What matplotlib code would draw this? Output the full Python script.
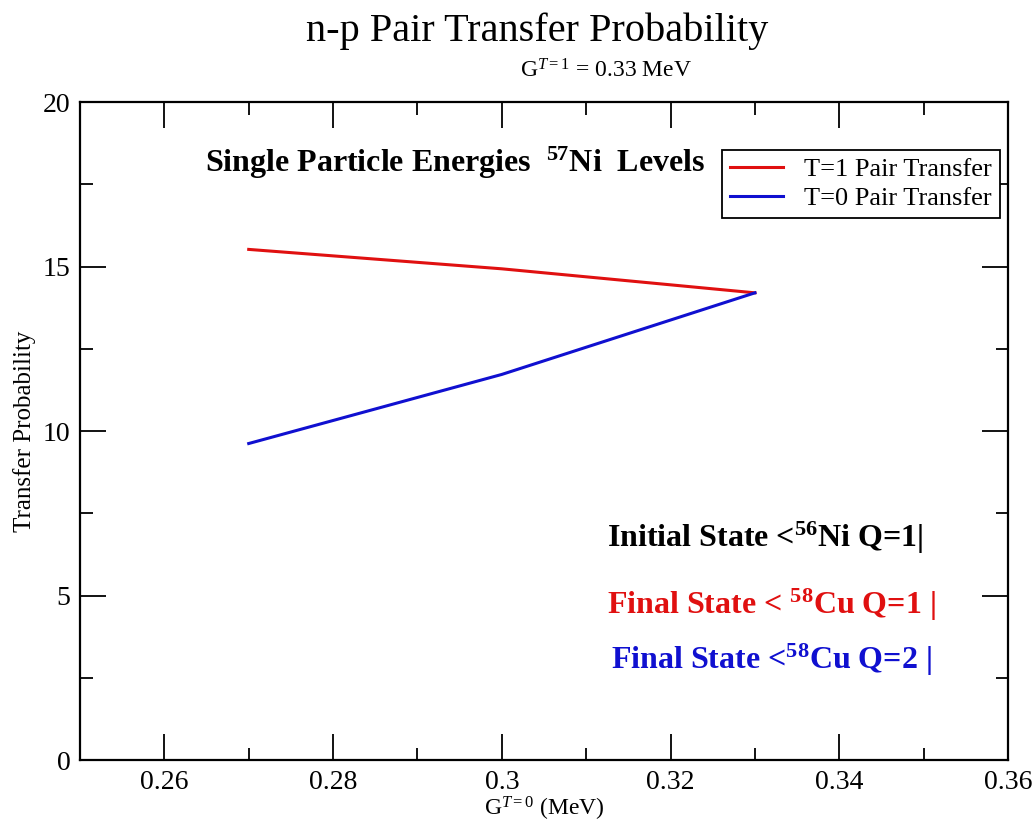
import matplotlib
matplotlib.use("Agg")
import matplotlib.pyplot as plt
from matplotlib.ticker import MultipleLocator

plt.rcParams['font.family'] = ['Liberation Serif', 'DejaVu Serif']
plt.rcParams['mathtext.fontset'] = 'custom'
plt.rcParams['mathtext.rm'] = 'Liberation Serif'
plt.rcParams['mathtext.it'] = 'Liberation Serif:italic'
plt.rcParams['mathtext.bf'] = 'Liberation Serif:bold'

# coupling strength G(T=0) in MeV
g_t0 = [0.27, 0.30, 0.33]
# transfer probabilities
p_t1 = [15.52, 14.93, 14.2]
p_t0 = [9.62, 11.72, 14.2]

fig = plt.figure(figsize=(10.36, 8.32), dpi=100)
ax = fig.add_axes([0.0772, 0.0865, 0.8958, 0.7909])

ax.plot(g_t0, p_t1, color='#e01010', lw=2.2, label='T=1 Pair Transfer')
ax.plot(g_t0, p_t0, color='#1010d0', lw=2.2, label='T=0 Pair Transfer')

ax.set_xlim(0.25, 0.36)
ax.set_ylim(0, 20)
ax.xaxis.set_minor_locator(MultipleLocator(0.01))
ax.yaxis.set_major_locator(MultipleLocator(5))
ax.yaxis.set_minor_locator(MultipleLocator(2.5))
ax.set_xticks([0.26, 0.28, 0.30, 0.32, 0.34, 0.36])
ax.set_xticklabels(['0.26', '0.28', '0.3', '0.32', '0.34', '0.36'])
ax.tick_params(which='both', direction='in', top=True, right=True, width=1.3)
ax.tick_params(which='major', length=19, labelsize=20, pad=7)
ax.tick_params(which='minor', length=9)
for s in ax.spines.values():
    s.set_linewidth(1.6)

ax.set_xlabel(r'G$^{T=0}$ (MeV)', fontsize=17, labelpad=0)
ax.set_ylabel('Transfer Probability', fontsize=18, labelpad=5)

fig.text(0.518, 0.963, 'n-p Pair Transfer Probability', ha='center', va='center', fontsize=29)
fig.text(0.585, 0.915, r'G$^{T=1}$ = 0.33 MeV', ha='center', va='center', fontsize=17)

ax.text(0.2648, 18.15, r'Single Particle Energies  $^{\mathbf{57}}$Ni  Levels',
        fontsize=23, fontweight='bold', va='center')
ax.text(0.3125, 6.75, r'Initial State <$^{\mathbf{56}}$Ni Q=1|',
        fontsize=23, fontweight='bold', va='center', color='black')
ax.text(0.3125, 4.7, r'Final State < $^{\mathbf{58}}$Cu Q=1 |',
        fontsize=23, fontweight='bold', va='center', color='#e01010')
ax.text(0.3129, 3.05, r'Final State <$^{\mathbf{58}}$Cu Q=2 |',
        fontsize=23, fontweight='bold', va='center', color='#1010d0')

leg = ax.legend(loc='upper right', bbox_to_anchor=(0.991, 0.927), fontsize=19,
                fancybox=False, edgecolor='black', framealpha=1, borderaxespad=0,
                handlelength=2.0, borderpad=0.3, labelspacing=0.2, handletextpad=0.8)
leg.get_frame().set_linewidth(1.3)

fig.savefig('out.png', dpi=100)
